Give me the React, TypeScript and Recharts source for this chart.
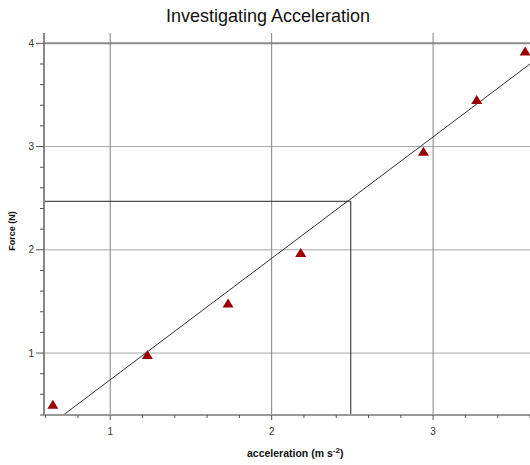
import React from 'react';
import { ScatterChart, Scatter, XAxis, YAxis, ReferenceLine } from 'recharts';

const accel = [0.645, 1.23, 1.73, 2.18, 2.94, 3.27, 3.57];
const force = [0.5, 0.98, 1.48, 1.97, 2.95, 3.45, 3.92];

const xTicks = [0.6, 0.8, 1, 1.2, 1.4, 1.6, 1.8, 2, 2.2, 2.4, 2.6, 2.8, 3, 3.2, 3.4, 3.6];
const yTicks = [0.4, 0.6, 0.8, 1, 1.2, 1.4, 1.6, 1.8, 2, 2.2, 2.4, 2.6, 2.8, 3, 3.2, 3.4, 3.6, 3.8, 4];
const xMajor = [1, 2, 3];
const yMajor = [1, 2, 3, 4];

const fitLine = [
  { x: 0.71, y: 0.4 },
  { x: 3.6, y: 3.8 },
];
const readOff = { x: 2.49, y: 2.47 };

const xDomain: [number, number] = [0.59, 3.6];
const yDomain: [number, number] = [0.4, 4.1];

const points = accel.map((a, i) => ({ a, f: force[i] }));

const isMajor = (v: number) => Math.abs(v - Math.round(v)) < 1e-6;

const FONT = 'Liberation Sans, Arial, sans-serif';

const XTick = (props: any) => {
  const { x, y, payload } = props;
  const v = payload.value;
  const major = isMajor(v);
  return (
    <g>
      <line x1={x} x2={x} y1={y} y2={y + (major ? 5 : 3)} stroke="#555" strokeWidth={1} />
      {major && (
        <text x={x} y={y + 20} textAnchor="middle" fontSize={10} fill="#333" fontFamily={FONT}>
          {v}
        </text>
      )}
    </g>
  );
};

const YTick = (props: any) => {
  const { x, y, payload } = props;
  const v = payload.value;
  const major = isMajor(v);
  return (
    <g>
      <line x1={x - (major ? 8 : 4)} x2={x} y1={y} y2={y} stroke="#555" strokeWidth={1} />
      {major && (
        <text x={x - 10} y={y + 3.5} textAnchor="end" fontSize={10} fill="#333" fontFamily={FONT}>
          {v}
        </text>
      )}
    </g>
  );
};

const Triangle = (props: any) => {
  const { cx, cy } = props;
  if (cx == null || cy == null) return null;
  return (
    <polygon
      points={`${cx},${cy - 5} ${cx - 5.5},${cy + 4} ${cx + 5.5},${cy + 4}`}
      fill="#990000"
    />
  );
};

export default function App() {
  return (
    <div style={{ position: 'fixed', left: 0, top: 0, width: 530, height: 465, overflow: 'hidden', background: '#fff' }}>
      <ScatterChart width={530} height={465} margin={{ top: 33, right: 0, bottom: 0, left: 0 }}>
        <XAxis
          type="number"
          dataKey="a"
          domain={xDomain}
          ticks={xTicks}
          interval={0}
          height={50}
          tickSize={0}
          tickMargin={0}
          tickLine={false}
          tick={<XTick />}
          axisLine={{ stroke: '#999', strokeWidth: 2 }}
        />
        <YAxis
          type="number"
          dataKey="f"
          domain={yDomain}
          ticks={yTicks}
          interval={0}
          width={44}
          tickSize={0}
          tickMargin={0}
          tickLine={false}
          tick={<YTick />}
          axisLine={{ stroke: '#888', strokeWidth: 2 }}
        />
        {yMajor.map((v) => (
          <ReferenceLine key={'h' + v} y={v} stroke={v === 4 ? '#8a8a8a' : '#a8a8a8'} strokeWidth={v === 4 ? 2 : 1} />
        ))}
        {xMajor.map((v) => (
          <ReferenceLine key={'v' + v} x={v} stroke="#808080" strokeWidth={1} />
        ))}
        <ReferenceLine
          segment={[{ x: xDomain[0], y: readOff.y }, { x: readOff.x, y: readOff.y }]}
          stroke="#222"
          strokeWidth={1}
        />
        <ReferenceLine
          segment={[{ x: readOff.x, y: yDomain[0] }, { x: readOff.x, y: readOff.y }]}
          stroke="#222"
          strokeWidth={1}
        />
        <ReferenceLine segment={fitLine} stroke="#333" strokeWidth={1} />
        <Scatter data={points} shape={<Triangle />} isAnimationActive={false} />
      </ScatterChart>
      <svg width={530} height={465} style={{ position: 'absolute', left: 0, top: 0, pointerEvents: 'none' }}>
        <text x={268} y={22} textAnchor="middle" fontSize={18} fill="#111" fontFamily={FONT}>
          Investigating Acceleration
        </text>
        <text
          transform="translate(14.5,231) rotate(-90)"
          textAnchor="middle"
          fontSize={9}
          fontWeight="bold"
          fill="#111"
          fontFamily={FONT}
        >
          Force (N)
        </text>
        <text x={247} y={457} fontSize={10.5} fontWeight="bold" fill="#111" fontFamily={FONT}>
          acceleration (m s
          <tspan dy={-4} fontSize={8}>-2</tspan>
          <tspan dy={4}>)</tspan>
        </text>
      </svg>
    </div>
  );
}
